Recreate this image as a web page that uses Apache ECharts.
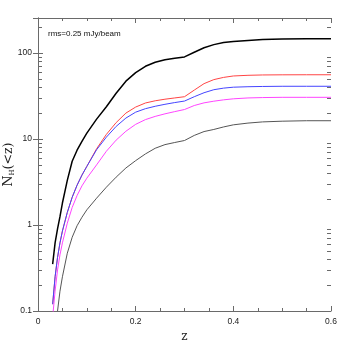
<!DOCTYPE html>
<html>
<head>
<meta charset="utf-8">
<script src="https://cdn.jsdelivr.net/npm/echarts@6/dist/echarts.min.js"></script>
<style>html,body{margin:0;padding:0;background:#fff}#c{width:349px;height:349px}</style>
</head>
<body>
<div id="c"></div>
<script>
const zVals   = [0.03,0.035,0.04,0.045,0.05,0.06,0.07,0.08,0.09,0.1,0.12,0.14,0.16,0.18,0.2,0.22,0.24,0.26,0.28,0.3,0.32,0.34,0.36,0.38,0.4,0.43,0.46,0.5,0.55,0.6];
const nBlack  = [0.35,0.62,0.9,1.25,1.8,3.3,5.5,7.4,9.4,11.7,17,23.7,34,47,59,70,78,83.5,87,90,102,115,125,132,136,140,143,145,146,146];
const nRed    = [0.12,0.25,0.42,0.62,0.85,1.4,2.1,2.9,3.8,4.8,7.7,11.3,15.5,20,23.5,26.2,27.8,29,30,31,37,44,49,52,54,55,55.5,55.7,55.8,55.8];
const nBlue   = [0.12,0.25,0.42,0.62,0.85,1.4,2.1,2.9,3.8,4.8,7.5,10.5,14,17.5,20.5,22.5,24,25.3,26.5,27.6,31,34.5,37.4,39,40,40.5,40.8,41,41,41];
const nMag    = [0.085,0.17,0.3,0.45,0.62,1.05,1.6,2.2,2.85,3.5,5.0,7.2,9.7,12.3,14.8,16.8,18.3,19.6,20.8,22,24.5,26.3,27.5,28.5,29.3,30,30.3,30.5,30.5,30.5];
const nGray   = [null,null,0.1,0.17,0.25,0.47,0.72,0.98,1.23,1.5,2.05,2.75,3.6,4.6,5.6,6.7,7.8,8.6,9.1,9.6,11,12.2,12.9,13.8,14.6,15.3,15.8,16.1,16.3,16.3];
const yMinorTicks = [0.2,0.3,0.4,0.5,0.6,0.7,0.8,0.9,2,3,4,5,6,7,8,9,20,30,40,50,60,70,80,90,200];
const xMin = 0, xMax = 0.6, yMin = 0.1, yMax = 255;
const annotation = 'rms=0.25 mJy/beam';

function pairs(arr){ return zVals.map((z,i)=>[z, arr[i]]); }
const axisCol = '#6a6a6a';
const chart = echarts.init(document.getElementById('c'));
function lineSeries(name, arr, color, w){
  return {name, type:'line', data:pairs(arr), showSymbol:false, symbol:'none', clip:true,
    smooth:false,
    lineStyle:{color, width:w}, itemStyle:{color}, connectNulls:false, silent:true, animation:false};
}
const xAxisBase = {type:'value', min:xMin, max:xMax, interval:0.2,
  axisLine:{lineStyle:{color:axisCol, width:1}}, splitLine:{show:false},
  axisTick:{inside:true, length:5, lineStyle:{color:axisCol}},
  minorTick:{show:true, splitNumber:4, length:3, lineStyle:{color:axisCol}}};
const yAxisBase = {type:'log', logBase:10, min:yMin, max:yMax,
  axisLine:{show:true, lineStyle:{color:axisCol, width:1}}, splitLine:{show:false},
  axisTick:{inside:true, length:5, lineStyle:{color:axisCol}}};
chart.setOption({
  animation:false,
  grid:{left:38, right:18, top:18, bottom:38, containLabel:false, outerBoundsMode:'none'},
  xAxis:[
    Object.assign({}, xAxisBase, {position:'bottom',
      name:'z', nameLocation:'middle', nameGap:17,
      nameTextStyle:{fontFamily:'DejaVu Serif', fontSize:12, color:'#222'},
      axisLabel:{fontFamily:'Liberation Sans', fontSize:8.5, color:'#222', margin:6,
        formatter:v=>String(+v.toFixed(1))}}),
    Object.assign({}, xAxisBase, {position:'top', axisLabel:{show:false}})
  ],
  yAxis:[
    Object.assign({}, yAxisBase, {position:'left',
      name:'N{s|H}(<z)', nameLocation:'middle', nameGap:22, nameRotate:90, nameMoveOverlap:false,
      nameTextStyle:{fontFamily:'DejaVu Serif', fontSize:12.5, color:'#222',
        rich:{s:{fontFamily:'DejaVu Serif', fontSize:7, color:'#222', verticalAlign:'bottom', padding:[7,0,0,0]}}},
      axisLabel:{fontFamily:'Liberation Sans', fontSize:8.5, color:'#222', margin:6, showMaxLabel:false,
        formatter:v=>{const l=Math.log10(v); return Math.abs(l-Math.round(l))<1e-6 ? String(v) : '';}}}),
    Object.assign({}, yAxisBase, {position:'right', axisLabel:{show:false}})
  ],
  graphic:[{type:'text', left:48, top:30, style:{text:annotation, font:'8px "Liberation Sans"', fill:'#111'}}],
  series:[
    {type:'custom', xAxisIndex:0, yAxisIndex:0, silent:true, clip:false, z:10,
      data:yMinorTicks.map(v=>[xMax, v]), encode:{x:0, y:1},
      renderItem:(params, api)=>{
        const p = api.coord([xMax, api.value(1)]);
        const cs = params.coordSys;
        const y = Math.round(p[1]);
        const st = {fill:axisCol, stroke:null};
        return {type:'group', children:[
          {type:'rect', shape:{x:cs.x, y:y, width:4, height:1}, style:st},
          {type:'rect', shape:{x:cs.x + cs.width - 4, y:y, width:4, height:1}, style:st}
        ]};
      }},
    lineSeries('gray', nGray, '#555555', 1),
    lineSeries('magenta', nMag, '#ff44ff', 1),
    lineSeries('red', nRed, '#ff4444', 1),
    lineSeries('blue', nBlue, '#4444ff', 1),
    lineSeries('black', nBlack, '#000000', 1.5)
  ]
});
</script>
</body>
</html>
